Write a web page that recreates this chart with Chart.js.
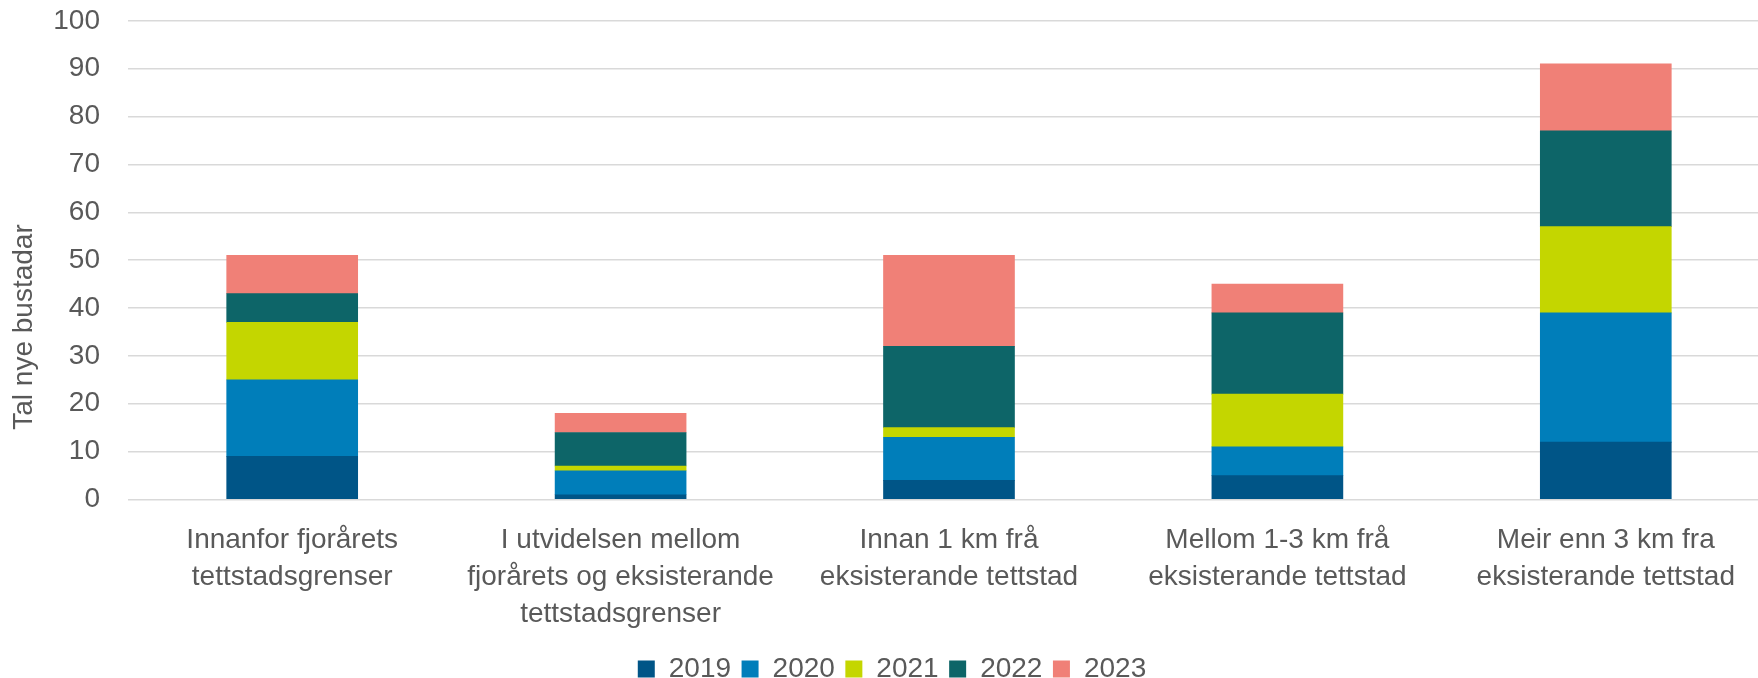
<!DOCTYPE html>
<html>
<head>
<meta charset="utf-8">
<script src="https://cdn.jsdelivr.net/npm/chart.js@4/dist/chart.umd.min.js"></script>
<style>
  html, body { margin: 0; padding: 0; background: #fff; overflow: hidden; }
  #wrap { position: relative; width: 1758px; height: 717px; margin-top: -24px; }
</style>
</head>
<body>
<div id="wrap"><canvas id="chart"></canvas></div>
<script>
// categories and series
const categories = [
    ["Innanfor fjorårets", "tettstadsgrenser"],
    ["I utvidelsen mellom", "fjorårets og eksisterande", "tettstadsgrenser"],
    ["Innan 1 km frå", "eksisterande tettstad"],
    ["Mellom 1-3 km frå", "eksisterande tettstad"],
    ["Meir enn 3 km fra", "eksisterande tettstad"]
];
const years = ["2019", "2020", "2021", "2022", "2023"];
const v2019 = [9, 1, 4, 5, 12];
const v2020 = [16, 5, 9, 6, 27];
const v2021 = [12, 1, 2, 11, 18];
const v2022 = [6, 7, 17, 17, 20];
const v2023 = [8, 4, 19, 6, 14];
const yTitle = "Tal nye bustadar";

const colors = ["#005587", "#007eba", "#c4d600", "#0d6568", "#f08077"];
const FONT = '"Liberation Sans", Arial, sans-serif';
const grey = "#595959";

const series = [v2019, v2020, v2021, v2022, v2023];
const datasets = series.map((vals, k) => ({
    label: years[k],
    data: vals.map((v, i) => ({ x: i, y: v })),
    backgroundColor: colors[k],
    borderWidth: 0,
    barThickness: 131
}));

// y axis title drawn off-centre like the original
const yTitlePlugin = {
    id: "yTitle",
    afterDraw(chart) {
        const ctx = chart.ctx;
        ctx.save();
        ctx.translate(24, 351);
        ctx.rotate(-Math.PI / 2);
        ctx.font = "28px " + FONT;
        ctx.fillStyle = grey;
        ctx.textAlign = "center";
        ctx.textBaseline = "middle";
        ctx.fillText(yTitle, 0, 0);
        ctx.restore();
    }
};

new Chart(document.getElementById("chart"), {
    type: "bar",
    data: { datasets: datasets },
    plugins: [yTitlePlugin],
    options: {
        responsive: true,
        maintainAspectRatio: false,
        animation: false,
        layout: { padding: { top: 22, right: 0, left: 26, bottom: 0 } },
        plugins: {
            tooltip: { enabled: false },
            legend: {
                position: "bottom",
                labels: {
                    boxWidth: 17,
                    boxHeight: 17,
                    padding: 10.5,
                    color: grey,
                    font: { family: FONT, size: 28 }
                }
            }
        },
        scales: {
            x: {
                type: "linear",
                stacked: true,
                offset: false,
                min: -0.5,
                max: 4.4635,
                grid: { display: false, offset: false },
                border: { display: false },
                ticks: {
                    stepSize: 1,
                    includeBounds: false,
                    autoSkip: false,
                    maxRotation: 0,
                    padding: 14,
                    color: grey,
                    font: { family: FONT, size: 28, lineHeight: 1.32 },
                    callback: (v) => categories[v]
                },
                afterFit: (s) => { s.height = 145; }
            },
            y: {
                stacked: true,
                min: 0,
                max: 100,
                grid: { color: "#d9d9d9", lineWidth: 1.5, drawTicks: false },
                border: { display: false },
                ticks: {
                    stepSize: 10,
                    padding: 28,
                    color: grey,
                    font: { family: FONT, size: 28 }
                },
                afterFit: (s) => { s.width = 102; }
            }
        }
    }
});
</script>
</body>
</html>
